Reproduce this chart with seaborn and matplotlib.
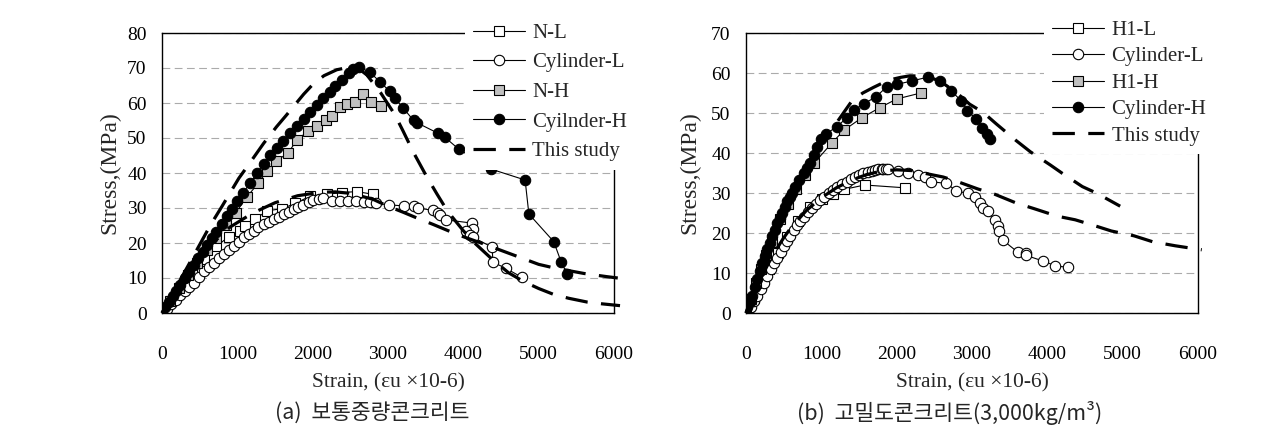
import matplotlib
matplotlib.use("Agg")
import matplotlib.pyplot as plt
import seaborn as sns

# ---------------- data: (a) normal-weight concrete ----------------
nl_x = [0, 120, 260, 400, 560, 720, 885, 1030, 1106, 1238, 1393, 1592, 1768, 1967, 2187, 2386, 2585, 2806]
nl_y = [0, 3.5, 7.5, 11.5, 15.5, 19, 21.8, 23.5, 24.9, 26.8, 29.2, 29.8, 31.3, 33.4, 33.9, 34.4, 34.7, 33.9]

cl_a_x = [0, 60, 120, 180, 240, 300, 360, 420, 490, 554, 620, 687, 750, 819, 885, 952, 1020, 1084, 1150,
          1216, 1280, 1348, 1415, 1481, 1550, 1614, 1680, 1746, 1810, 1878, 1945, 2011, 2080, 2143, 2262,
          2364, 2470, 2571, 2676, 2760, 2845, 3010, 3210, 3340, 3400, 3600, 3660, 3690, 3775, 4110, 4133,
          4038, 4086, 4133, 4381, 4394, 4562, 4776]
cl_a_y = [0, 1.2, 2.5, 3.7, 5, 6.2, 7.4, 8.7, 10.4, 11.9, 13.2, 14.4, 15.6, 16.8, 18, 19.2, 20.4, 21.6, 22.6,
          23.5, 24.5, 25.4, 26.1, 26.8, 27.5, 28.2, 28.9, 29.6, 30.2, 30.9, 31.6, 32.2, 32.6, 32.8, 32,
          32, 32, 31.9, 31.8, 31.6, 31.3, 30.9, 30.6, 30.5, 30, 29.3, 28.7, 28, 26.6, 25.7, 24,
          23.5, 22.3, 21.6, 18.8, 14.5, 12.8, 10.2]

nh_x = [0, 110, 230, 350, 470, 600, 720, 850, 980, 1128, 1274, 1394, 1513, 1675, 1795, 1940, 2058, 2177,
        2263, 2360, 2456, 2562, 2668, 2775, 2905]
nh_y = [0, 3.5, 7.2, 10.8, 14.3, 18, 21.3, 25, 28.7, 33.2, 37, 40.5, 43.3, 45.8, 49.5, 52, 53.4, 55.2,
        56.3, 58.9, 59.6, 60.4, 62.7, 60.4, 59.1]

ch_a_x = [0, 40, 90, 140, 190, 240, 300, 360, 420, 480, 540, 600, 660, 720, 790, 860, 930, 1000, 1080,
          1170, 1260, 1350, 1440, 1525, 1610, 1700, 1790, 1880, 1970, 2060, 2140, 2230, 2300, 2390, 2480,
          2540, 2610, 2760, 2895, 3025, 3090, 3200, 3340, 3390, 3660, 3750, 3940, 4370, 4820, 4870, 5200,
          5300, 5380]
ch_a_y = [0.5, 1.6, 3.2, 4.8, 6.4, 8, 9.9, 11.8, 13.7, 15.6, 17.5, 19.4, 21.3, 23.2, 25.4, 27.6, 29.8, 32,
          34.4, 37.2, 40, 42.6, 45, 47.2, 49.2, 51.4, 53.4, 55.5, 57.5, 59.5, 61.3, 63.2, 64.8, 66.7, 68.5,
          69.6, 70.3, 68.8, 66, 63.3, 61.4, 58.6, 55, 54.3, 51.4, 50.3, 46.8, 41.1, 38, 28.3, 20.4,
          14.5, 11.2]

mh_a_x = [0, 200, 400, 640, 800, 1020, 1170, 1350, 1520, 1650, 1880, 2010, 2150, 2320, 2480, 2600, 2720,
          2900, 3090, 3200, 3340, 3510, 3650, 3750, 3850, 4000, 4150, 4350, 4600, 4800, 5000, 5200, 5400,
          5650, 5850, 6080]
mh_a_y = [0, 7.8, 15.6, 25, 30.6, 38.5, 43, 48.5, 53.2, 56.5, 62.5, 65.5, 67.8, 69.5, 70.2, 70, 68,
          63, 56.7, 52, 45.8, 39.1, 34, 30.5, 27.5, 23.5, 20, 16, 11.5, 9, 7, 5.3, 4.2,
          3.1, 2.6, 2.1]

ml_a_x = [0, 300, 600, 900, 1200, 1500, 1800, 2100, 2300, 2500, 2800, 3000, 3200, 3400, 3600, 3800,
          4000, 4300, 4700, 5000, 5200, 5600, 5900, 6050]
ml_a_y = [0, 10, 18.5, 24.5, 28.5, 31.5, 33.5, 34.5, 34.6, 34.2, 32.5, 30.5, 28.8, 27, 25.3, 23.5,
          21.8, 19.5, 16.3, 13.9, 12.9, 11.3, 10.4, 10]

# ---------------- data: (b) heavy-weight concrete ----------------
h1l_x = [0, 100, 195, 300, 420, 550, 690, 850, 1010, 1160, 1300, 1575, 2108]
h1l_y = [0, 3.8, 7.3, 11, 15, 19, 23, 26.5, 28.5, 29.8, 30.9, 32, 31.3]

cl_b_x = [0, 30, 62, 106, 150, 194, 238, 282, 326, 370, 414, 458, 502, 546, 590, 634, 678, 722, 766, 822,
          877, 932, 987, 1042, 1097, 1152, 1207, 1273, 1339, 1394, 1449, 1504, 1559, 1614, 1669, 1714,
          1758, 1800, 1824, 1857, 1890, 2022, 2154, 2286, 2374, 2462, 2661, 2793, 2947, 3035, 3101, 3145,
          3211, 3299, 3343, 3365, 3410, 3608, 3718, 3718, 3942, 4106, 4274]
cl_b_y = [0, 0.6, 1.4, 2.9, 4.3, 6, 7.6, 9.3, 10.9, 12.4, 13.8, 15.3, 16.7, 18, 19.3, 20.7, 22.1, 23.1,
          24.1, 25.2, 26.2, 27.3, 28.3, 29.1, 29.9, 30.8, 31.6, 32.2, 32.8, 33.4, 34, 34.5, 34.9, 35.2,
          35.5, 35.8, 36.1, 36.1, 36.1, 36, 35.9, 35.5, 35, 34.5, 34, 32.8, 32.4, 30.5, 29.9, 29.1, 27.4,
          26.2, 25.4, 23.3, 21.7, 20.4, 18.2, 15.2, 14.9, 14.4, 13, 11.8, 11.4]

h1h_x = [0, 60, 130, 200, 270, 340, 447, 560, 662, 780, 900, 1140, 1300, 1537, 1773, 2000, 2320]
h1h_y = [0, 3.5, 7.5, 11, 14.5, 17.8, 23.4, 27.2, 31, 34.5, 37.4, 42.5, 45.7, 48.8, 51.3, 53.5, 55]

ch_b_x = [0, 18, 50, 84, 117, 150, 183, 216, 249, 282, 315, 348, 381, 414, 447, 480, 513, 546, 580, 612,
          650, 700, 766, 810, 855, 900, 945, 990, 1066, 1206, 1339, 1440, 1564, 1730, 1870, 2011, 2200,
          2420, 2581, 2727, 2859, 2938, 3057, 3136, 3198, 3233]
ch_b_y = [0, 1.4, 2.8, 4.3, 6.4, 8.4, 10.5, 12.6, 14.2, 15.9, 17.5, 19.2, 20.8, 22.5, 23.8, 25, 26.4, 27.9,
          29, 29.9, 31.5, 33.2, 34.9, 36.2, 37.4, 39.5, 41.5, 43.5, 44.8, 46.6, 48.8, 50.8, 52.3, 54.1,
          56.6, 57.2, 58, 59, 58, 55.5, 53, 50.6, 48.5, 46.3, 44.8, 43.6]

mh_b_x = [0, 100, 200, 300, 400, 500, 600, 700, 800, 900, 1000, 1200, 1405, 1550, 1692, 1890, 2050, 2176,
          2350, 2500, 2650, 2800, 2969, 3145, 3321, 3586, 3775, 4040, 4200, 4465, 4650, 4967]
mh_b_y = [0, 5.5, 11.5, 17, 22, 25.7, 29.5, 33, 36, 39.5, 43, 47.5, 53, 55, 56.4, 58.2, 58.9, 59.3,
          59.2, 58.5, 57, 55, 52.2, 50.2, 47.3, 43.1, 40.3, 37, 34.9, 31.6, 30, 26.7]

ml_b_x = [0, 100, 200, 300, 400, 500, 600, 800, 1000, 1200, 1400, 1600, 1800, 2000, 2200, 2484, 2617,
          2815, 3079, 3300, 3586, 3822, 4132, 4370, 4650, 4850, 5150, 5400, 5700, 6050]
ml_b_y = [0, 4.5, 8.8, 12.5, 15.8, 18.8, 21.4, 25.6, 28.8, 31.3, 33.2, 34.6, 35.5, 35.8, 35.6, 34.5, 34,
          32.8, 31, 29.7, 27.5, 26.1, 24.2, 23.3, 21.7, 20.5, 19.3, 17.8, 16.8, 15.8]

x_ticks = [0, 1000, 2000, 3000, 4000, 5000, 6000]
labels_a = ["N-L", "Cylinder-L", "N-H", "Cyilnder-H", "This study"]
labels_b = ["H1-L", "Cylinder-L", "H1-H", "Cylinder-H", "This study"]
caption_a = "(a)  보통중량콘크리트"
caption_b = "(b)  고밀도콘크리트(3,000kg/m³)"
xlabel = "Strain, (εu ×10-6)"
ylabel = "Stress,(MPa)"

# ---------------- style ----------------
sns.set_style("white")
plt.rcParams["font.family"] = ["Liberation Serif", "DejaVu Serif"]

W, H = 1276, 440
fig = plt.figure(figsize=(W / 100, H / 100), dpi=100)


def px_axes(l, t, r, b):
    return fig.add_axes([l / W, 1 - b / H, (r - l) / W, (b - t) / H])


def draw_series(ax, x, y, marker, face, ms):
    sns.lineplot(x=x, y=y, ax=ax, sort=False, estimator=None, color="black", linewidth=0.8,
                 marker=marker, markersize=ms, markerfacecolor=face, markeredgecolor="black",
                 markeredgewidth=0.8)
    return ax.lines[-1]


def draw_model(ax, x, y):
    sns.lineplot(x=x, y=y, ax=ax, sort=False, estimator=None, color="black", linewidth=2.3)
    ln = ax.lines[-1]
    ln.set_dashes((7, 4.2))
    ln.set_clip_on(False)
    return ln


def style_axes(ax, ymax):
    ax.set_xlim(0, 6000)
    ax.set_ylim(0, ymax)
    ax.set_xticks(x_ticks)
    ax.set_yticks(list(range(0, ymax + 1, 10)))
    ax.set_axisbelow(True)
    ax.yaxis.grid(True, color="#ababab", linestyle=(0, (7, 4)), linewidth=0.8)
    ax.xaxis.grid(False)
    for s in ax.spines.values():
        s.set_color("black")
        s.set_linewidth(1.0)
    ax.tick_params(axis="both", direction="in", length=5, width=0.8, labelsize=14, colors="black")
    ax.tick_params(axis="y", pad=11)
    ax.tick_params(axis="x", pad=24)
    ax.set_xlabel(xlabel, fontsize=15.5)
    ax.set_ylabel(ylabel, fontsize=17)


def add_legend(ax, handles, labels, left_px, top_px, spacing):
    ax.legend(handles, labels, loc="upper left",
              bbox_to_anchor=(left_px / W, 1 - top_px / H), bbox_transform=fig.transFigure,
              frameon=True, fancybox=False, framealpha=1, facecolor="white", edgecolor="none",
              fontsize=15, handlelength=2.5, handletextpad=0.34, labelspacing=spacing,
              borderpad=0.4, borderaxespad=0, numpoints=1)


# ---------------- (a) ----------------
axL = px_axes(162, 33, 614, 313)
h1 = draw_series(axL, nl_x, nl_y, "s", "white", 7)
h2 = draw_series(axL, cl_a_x, cl_a_y, "o", "white", 7.5)
h3 = draw_series(axL, nh_x, nh_y, "s", "#c0c0c0", 7)
h4 = draw_series(axL, ch_a_x, ch_a_y, "o", "black", 7.5)
h5 = draw_model(axL, mh_a_x, mh_a_y)
draw_model(axL, ml_a_x, ml_a_y)
style_axes(axL, 80)
add_legend(axL, [h1, h2, h3, h4, h5], labels_a, 465, 15, 0.48)

# ---------------- (b) ----------------
axR = px_axes(746, 33, 1198, 313)
g1 = draw_series(axR, h1l_x, h1l_y, "s", "white", 7)
g2 = draw_series(axR, cl_b_x, cl_b_y, "o", "white", 7.5)
g3 = draw_series(axR, h1h_x, h1h_y, "s", "#c0c0c0", 7)
g4 = draw_series(axR, ch_b_x, ch_b_y, "o", "black", 7.5)
g5 = draw_model(axR, mh_b_x, mh_b_y)
draw_model(axR, ml_b_x, ml_b_y)
style_axes(axR, 70)
add_legend(axR, [g1, g2, g3, g4, g5], labels_b, 1044, 12, 0.33)

# axis label positions
for ax, ylx in ((axL, (110 - 162) / 452), (axR, (690 - 746) / 452)):
    ax.yaxis.set_label_coords(ylx, 0.5)
    ax.yaxis.label.set_va("center")
    ax.xaxis.set_label_coords(0.5, (313 - 383) / 280)
    ax.xaxis.label.set_va("center")

# captions
cap_font = ["Noto Sans CJK KR", "DejaVu Sans"]
fig.text(372 / W, 1 - 413 / H, caption_a, ha="center", va="center", fontsize=15.5, family=cap_font)
fig.text(950 / W, 1 - 413 / H, caption_b, ha="center", va="center", fontsize=15.5, family=cap_font)

fig.savefig("out.png", dpi=100)
